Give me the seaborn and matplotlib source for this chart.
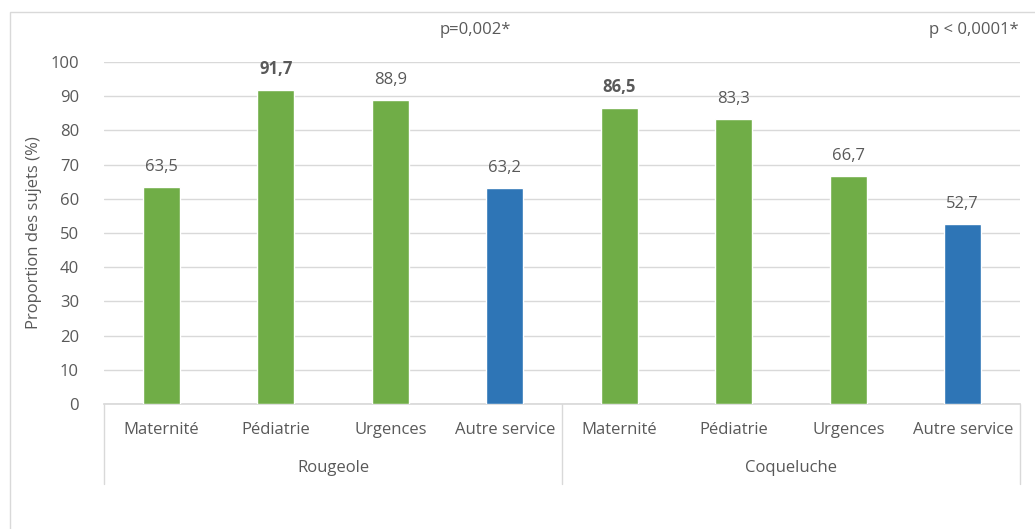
import numpy as np
import pandas as pd
import seaborn as sns
from matplotlib import pyplot as plt
from matplotlib.patches import Rectangle
import matplotlib.transforms as mtransforms

# data
groups = ['Rougeole', 'Coqueluche']
services = ['Maternité', 'Pédiatrie', 'Urgences', 'Autre service']
rougeole = [63.5, 91.7, 88.9, 63.2]
coqueluche = [86.5, 83.3, 66.7, 52.7]
bold_labels = [False, True, False, False, True, False, False, False]
p_values = ['p=0,002*', 'p < 0,0001*']

green = '#70AD47'
blue = '#2E75B6'
text_col = '#595959'
grid_col = '#D9D9D9'
fs = 12

df = pd.DataFrame({
    'groupe': np.repeat(groups, len(services)),
    'service': services * len(groups),
    'valeur': rougeole + coqueluche,
})
df['cle'] = df['groupe'] + ' | ' + df['service']
colors = [blue if s == 'Autre service' else green for s in df['service']]

sns.set_theme(style="white")
plt.rcParams['font.family'] = ['Open Sans', 'DejaVu Sans']

fig = plt.figure(figsize=(10.35, 5.29), dpi=100)
ax = fig.add_axes([104 / 1035, 1 - 404 / 529, 916 / 1035, 342 / 529])

# outer frame of the chart area
fig.patches.append(Rectangle((10 / 1035, -0.1), 1.2, 1 - 12 / 529 + 0.1,
                             transform=fig.transFigure, fill=False,
                             edgecolor=grid_col, linewidth=1))

sns.barplot(data=df, x='cle', y='valeur', hue='cle', palette=colors,
            legend=False, width=0.32, saturation=1, ax=ax, zorder=3)

ax.set_ylim(0, 100)
ax.set_xlim(-0.5, 7.5)
ax.set_yticks(range(0, 101, 10))
ax.yaxis.grid(True, color=grid_col, linewidth=1, zorder=0)
ax.set_axisbelow(True)
ax.tick_params(axis='y', length=0, labelsize=fs, labelcolor=text_col, pad=18)
ax.set_xticks([])
ax.set_xlabel('')
ax.set_ylabel('Proportion des sujets (%)', fontsize=fs, color=text_col, labelpad=6)
for s in ['top', 'right', 'left']:
    ax.spines[s].set_visible(False)
ax.spines['bottom'].set_color(grid_col)

# value labels
for i, (v, b) in enumerate(zip(df['valeur'], bold_labels)):
    ax.text(i, v + 3.5, f'{v:.1f}'.replace('.', ','), ha='center', va='bottom',
            fontsize=fs, color=text_col, fontweight='bold' if b else 'normal')

# two-level category axis
trans = mtransforms.blended_transform_factory(ax.transData, ax.transAxes)
for i, s in enumerate(df['service']):
    ax.text(i, -0.076, s, transform=trans, ha='center', va='center',
            fontsize=fs, color=text_col)
for g, grp in enumerate(groups):
    ax.text(g * 4 + 1.5, -0.187, grp, transform=trans, ha='center',
            va='center', fontsize=fs, color=text_col)
for x in [-0.5, 3.5, 7.5]:
    ax.plot([x, x], [0, -0.234], transform=trans, color=grid_col,
            linewidth=1, clip_on=False)

# p-values
fig.text(475 / 1035, 1 - 30 / 529, p_values[0], ha='center', va='center',
         fontsize=fs, color=text_col)
fig.text(929 / 1035, 1 - 30 / 529, p_values[1], ha='left', va='center',
         fontsize=fs, color=text_col)

plt.savefig('out.png', dpi=100, facecolor='white')
